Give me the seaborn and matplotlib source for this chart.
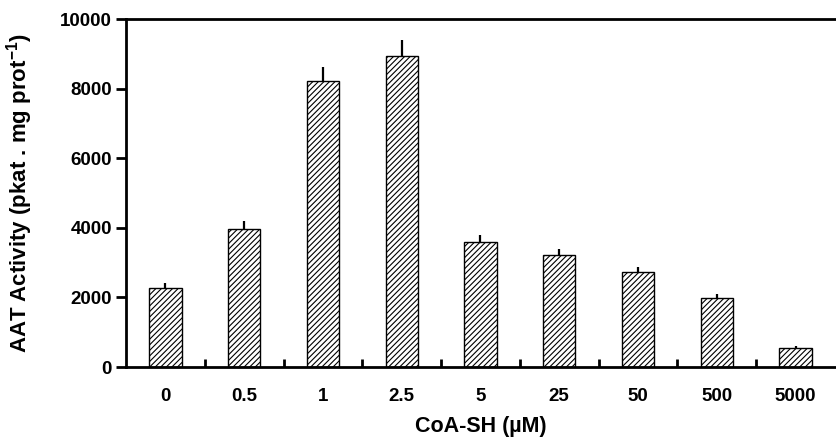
import numpy as np
import pandas as pd
import matplotlib
matplotlib.use("Agg")
import matplotlib.pyplot as plt
import seaborn as sns

# CoA-SH concentrations (uM) and AAT activity
concentrations = ["0", "0.5", "1", "2.5", "5", "25", "50", "500", "5000"]
activity = [2260, 3970, 8230, 8940, 3580, 3220, 2720, 1990, 555]
activity_err = [140, 220, 400, 450, 220, 170, 145, 115, 45]

sns.set_theme(style="white")
plt.rcParams["font.family"] = ["Liberation Sans", "DejaVu Sans"]
plt.rcParams["font.weight"] = "bold"
plt.rcParams["axes.labelcolor"] = "black"
plt.rcParams["mathtext.fontset"] = "custom"
plt.rcParams["mathtext.rm"] = "Liberation Sans:bold"
plt.rcParams["mathtext.bf"] = "Liberation Sans:bold"
plt.rcParams["hatch.color"] = "#2a2a2a"
plt.rcParams["hatch.linewidth"] = 0.8

df = pd.DataFrame({"conc": concentrations, "activity": activity})

fig = plt.figure(figsize=(8.36, 4.41), dpi=100)
ax = fig.add_axes([0.1507, 0.1678, 0.848, 0.7891])

sns.barplot(data=df, x="conc", y="activity", ax=ax, color="white",
            edgecolor="black", linewidth=1.0, width=0.41, errorbar=None,
            hatch="//////")

# one-sided (upper) error bars
xpos = np.arange(len(concentrations))
ax.errorbar(xpos, activity, yerr=[np.zeros(len(activity)), activity_err],
            fmt="none", ecolor="black", elinewidth=1.6, capsize=0, zorder=3)

ax.set_xlim(-0.5, len(concentrations) - 0.5)
ax.set_ylim(0, 10000)
ax.set_yticks([0, 2000, 4000, 6000, 8000, 10000])

for side in ["left", "bottom", "top"]:
    ax.spines[side].set_color("black")
    ax.spines[side].set_linewidth(2.0)
ax.spines["right"].set_visible(False)

ax.tick_params(axis="y", direction="out", length=7, width=2, colors="black",
               labelsize=13.5, pad=3, left=True)
ax.tick_params(axis="x", which="major", length=0, labelsize=13.5, pad=15,
               colors="black")
ax.set_xticks(np.arange(0.5, len(concentrations) - 0.5, 1.0), minor=True)
ax.tick_params(axis="x", which="minor", direction="in", length=6, width=2,
               bottom=True, colors="black")
for lbl in ax.get_xticklabels() + ax.get_yticklabels():
    lbl.set_fontweight("bold")

ax.set_xlabel("CoA-SH (\u00b5M)", fontsize=15.5, fontweight="bold",
              color="black", labelpad=8)
ax.set_ylabel("AAT Activity (pkat . mg prot$^{-1}$)", fontsize=16,
              fontweight="bold", color="black", labelpad=18)

fig.savefig("out.png", dpi=100)
